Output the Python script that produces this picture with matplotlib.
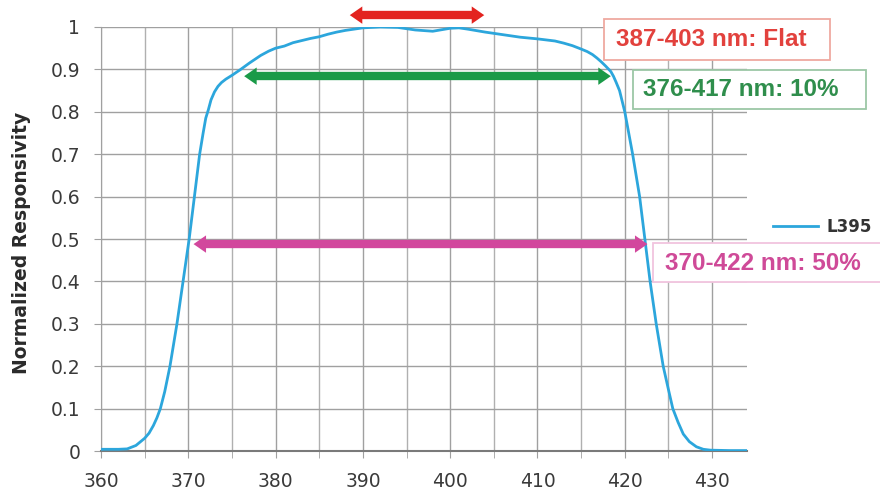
" normalized responsivity of the L395 filter with bandwidth markers "
import matplotlib
matplotlib.use("Agg")
import matplotlib.pyplot as plt
from matplotlib.patches import Rectangle

plt.rcParams.update({"font.family": ["DejaVu Sans"]})

# spectral response
wl = [360, 361, 362, 363, 364, 365, 365.5, 366, 366.4, 366.8, 367.3, 367.9,
      368.3, 368.7, 369.4, 370.1, 370.7, 371.3, 371.7, 372.0, 372.3, 372.6,
      373.0, 373.4, 373.8, 374.3, 375, 376, 377, 378.3, 379.2, 380, 381, 382,
      383, 384, 385, 386, 387, 388, 389, 390, 392, 394, 396, 398, 400, 401,
      402, 404, 406, 408, 410, 412, 413, 414, 415, 415.7, 416.3, 416.8, 417.3,
      417.8, 418.4, 418.7, 419, 419.4, 419.7, 420, 420.45, 420.9, 421.7,
      422.3, 422.9, 423.6, 424.4, 425, 425.5, 426.1, 426.7, 427.4, 428.2,
      429, 429.8, 432, 434]
resp = [0.004, 0.004, 0.004, 0.005, 0.013, 0.03, 0.042, 0.06, 0.078, 0.1,
        0.14, 0.2, 0.25, 0.3, 0.4, 0.5, 0.6, 0.7, 0.75, 0.785, 0.805, 0.828,
        0.847, 0.86, 0.869, 0.877, 0.886, 0.9, 0.915, 0.933, 0.943, 0.95,
        0.955, 0.963, 0.968, 0.973, 0.977, 0.983, 0.988, 0.992, 0.995, 0.998,
        1.0, 0.999, 0.993, 0.99, 0.997, 0.998, 0.995, 0.988, 0.982, 0.976,
        0.972, 0.967, 0.962, 0.956, 0.948, 0.942, 0.935, 0.927, 0.918, 0.908,
        0.895, 0.884, 0.87, 0.85, 0.825, 0.8, 0.75, 0.7, 0.6, 0.5, 0.4, 0.3,
        0.2, 0.145, 0.1, 0.068, 0.04, 0.022, 0.01, 0.004, 0.002, 0.001, 0.001]

# bandwidth markers: arrow ends, height, label
band_start = [388.5, 376.4, 370.6]
band_end = [403.9, 418.4, 422.6]
band_y = [1.028, 0.884, 0.488]
band_text = ["387-403 nm: Flat", "376-417 nm: 10%", "370-422 nm: 50%"]
arrow_col = ["#E3231F", "#1A9A48", "#D2479D"]
text_col = ["#E2413D", "#2F8E4C", "#CF4A98"]
edge_col = ["#EFA9A0", "#9CC7A6", "#F1C4DE"]
# label boxes as pixel rectangles (left, top, right, bottom) and text anchor
box_px = [(604, 19, 830, 60), (633, 70, 866, 109), (653, 243, 886, 282)]
text_px = [(616, 40), (643, 90), (665, 263)]

W, H = 880, 490
fig = plt.figure(figsize=(8.8, 4.9), dpi=100)
ax = fig.add_axes([101 / W, 1 - 451 / H, 646 / W, 424 / H])

ax.plot(wl, resp, color="#2CA6DC", lw=2.0, label="L395", zorder=3)

ax.set_xlim(360, 434)
ax.set_ylim(0, 1)
ax.set_xticks(range(360, 431, 10))
ax.set_xticks(range(365, 431, 10), minor=True)
ax.set_yticks([i / 10 for i in range(11)])
ax.set_yticklabels(["0", "0.1", "0.2", "0.3", "0.4", "0.5", "0.6", "0.7",
                    "0.8", "0.9", "1"])
ax.grid(True, which="major", color="#A0A0A0", lw=1.0)
ax.grid(True, which="minor", axis="x", color="#B0B0B0", lw=1.0)
ax.tick_params(which="both", length=5, color="#A0A0A0", labelsize=13.5,
               labelcolor="#3A3A3A")
ax.tick_params(axis="x", which="both", pad=10)
ax.tick_params(axis="y", pad=10)
for side in ["top", "right"]:
    ax.spines[side].set_visible(False)
ax.spines["left"].set_color("#A0A0A0")
ax.spines["bottom"].set_color("#7A7A7A")
ax.spines["bottom"].set_linewidth(1.5)
ax.set_ylabel("Normalized Responsivity", fontsize=13.5, fontweight="bold",
              color="#2A2A2A")
ax.yaxis.set_label_coords(-0.109, 0.49)

# head length in nm, so the shaft stops under the arrow heads
head = 1.2
for i in range(len(band_text)):
    y = band_y[i]
    ax.plot([band_start[i] + head, band_end[i] - head], [y, y], lw=6.0,
            color=arrow_col[i], solid_capstyle="butt", clip_on=False,
            zorder=4)
    for end, sgn in ((band_start[i], 1), (band_end[i], -1)):
        ax.annotate("", xy=(end, y), xytext=(end + sgn * 2.5, y),
                    annotation_clip=False,
                    arrowprops=dict(arrowstyle="simple,head_width=1.25,"
                                    "head_length=0.9,tail_width=0.4",
                                    color=arrow_col[i], lw=0, shrinkA=0,
                                    shrinkB=0, mutation_scale=10),
                    zorder=4)
    x0, y0, x1, y1 = box_px[i]
    fig.add_artist(Rectangle((x0 / W, 1 - y1 / H), (x1 - x0) / W,
                             (y1 - y0) / H, transform=fig.transFigure,
                             fc="white", ec=edge_col[i], lw=1.3, zorder=5))
    tx, ty = text_px[i]
    fig.text(tx / W, 1 - ty / H, band_text[i], color=text_col[i],
             fontsize=17.5, fontweight="bold", va="center", ha="left",
             family=["Liberation Sans", "DejaVu Sans"], zorder=6)

fig.legend(loc="center left", bbox_to_anchor=(773 / W, 1 - 227 / H),
           frameon=False, borderpad=0, borderaxespad=0, handlelength=2.7,
           handletextpad=0.5, prop={"size": 12, "weight": "bold"},
           labelcolor="#333333")

fig.savefig("out.png", dpi=100)
